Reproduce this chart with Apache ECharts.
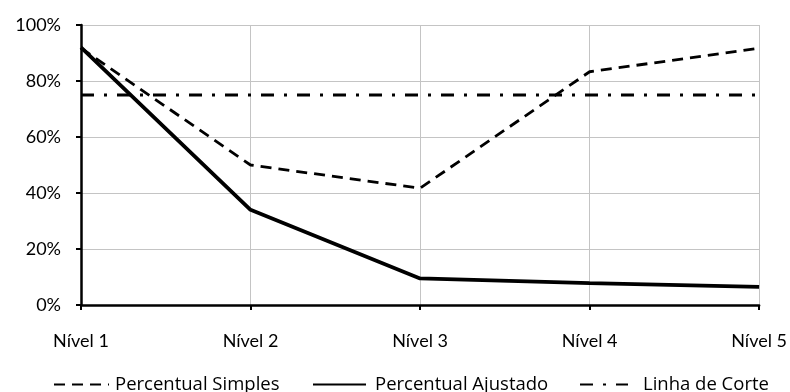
<!DOCTYPE html>
<html>
<head>
<meta charset="utf-8">
<script src="https://cdn.jsdelivr.net/npm/echarts@6/dist/echarts.min.js"></script>
<style>
  html, body { margin: 0; padding: 0; background: #fff; }
  #chart { width: 790px; height: 392px; }
</style>
</head>
<body>
<div id="chart"></div>
<script>
// Níveis de corte e percentuais por nível
const categories = ['Nível 1', 'Nível 2', 'Nível 3', 'Nível 4', 'Nível 5'];
const percentualSimples = [91.7, 50.0, 41.7, 83.3, 91.7];
const percentualAjustado = [92.0, 34.0, 9.5, 7.8, 6.5];
const linhaDeCorte = [75, 75, 75, 75, 75];
const yTicks = [0, 20, 40, 60, 80, 100];
const seriesNames = ['Percentual Simples', 'Percentual Ajustado', 'Linha de Corte'];

const FONT = 'Lato';
const LEGEND_FONT = 'Open Sans';
const FS = 18;
const chart = echarts.init(document.getElementById('chart'));

// one legend per series so each entry can sit at its own place
function legendAt(name, left, iconWidth, textShift) {
  return {
    data: [name],
    left: left,
    top: 375,
    padding: 0,
    itemWidth: iconWidth,
    itemHeight: 14,
    itemStyle: { opacity: 0 },
    textStyle: { fontFamily: LEGEND_FONT, fontSize: 18.5, color: '#000', padding: [0, 0, 0, textShift] }
  };
}

chart.setOption({
  animation: false,
  textStyle: { fontFamily: FONT, color: '#000' },
  grid: { left: 81, right: 30, top: 25, bottom: 87 },
  legend: [
    legendAt(seriesNames[0], 53, 55, 1),
    legendAt(seriesNames[1], 312, 53, 4),
    legendAt(seriesNames[2], 579, 48, 10)
  ],
  xAxis: {
    type: 'category',
    data: categories,
    boundaryGap: false,
    axisLine: { lineStyle: { color: '#000', width: 2.5 } },
    axisTick: { show: true, alignWithLabel: true, length: 5, lineStyle: { color: '#000', width: 2 } },
    axisLabel: { fontFamily: FONT, fontSize: FS, color: '#000', margin: 27 },
    splitLine: { show: true, lineStyle: { color: '#c4c4c4', width: 1 } }
  },
  yAxis: {
    type: 'value',
    min: yTicks[0],
    max: yTicks[yTicks.length - 1],
    interval: 20,
    axisLine: { show: true, lineStyle: { color: '#000', width: 2.5 } },
    axisTick: { show: true, length: 5, lineStyle: { color: '#000', width: 2 } },
    axisLabel: { fontFamily: FONT, fontSize: FS, color: '#000', margin: 20, formatter: v => v + '%' },
    splitLine: { show: true, lineStyle: { color: '#c4c4c4', width: 1 } }
  },
  series: [
    {
      name: seriesNames[0],
      type: 'line',
      data: percentualSimples,
      symbol: 'none',
      lineStyle: { color: '#000', width: 2.8, type: [11, 7] },
      itemStyle: { color: '#000' },
      z: 3
    },
    {
      name: seriesNames[1],
      type: 'line',
      data: percentualAjustado,
      symbol: 'none',
      lineStyle: { color: '#000', width: 3.8, type: 'solid' },
      itemStyle: { color: '#000' },
      z: 4
    },
    {
      name: seriesNames[2],
      type: 'line',
      data: linhaDeCorte,
      symbol: 'none',
      lineStyle: { color: '#000', width: 2.8, type: [13, 10, 3, 10] },
      itemStyle: { color: '#000' },
      z: 2
    }
  ]
});
</script>
</body>
</html>
